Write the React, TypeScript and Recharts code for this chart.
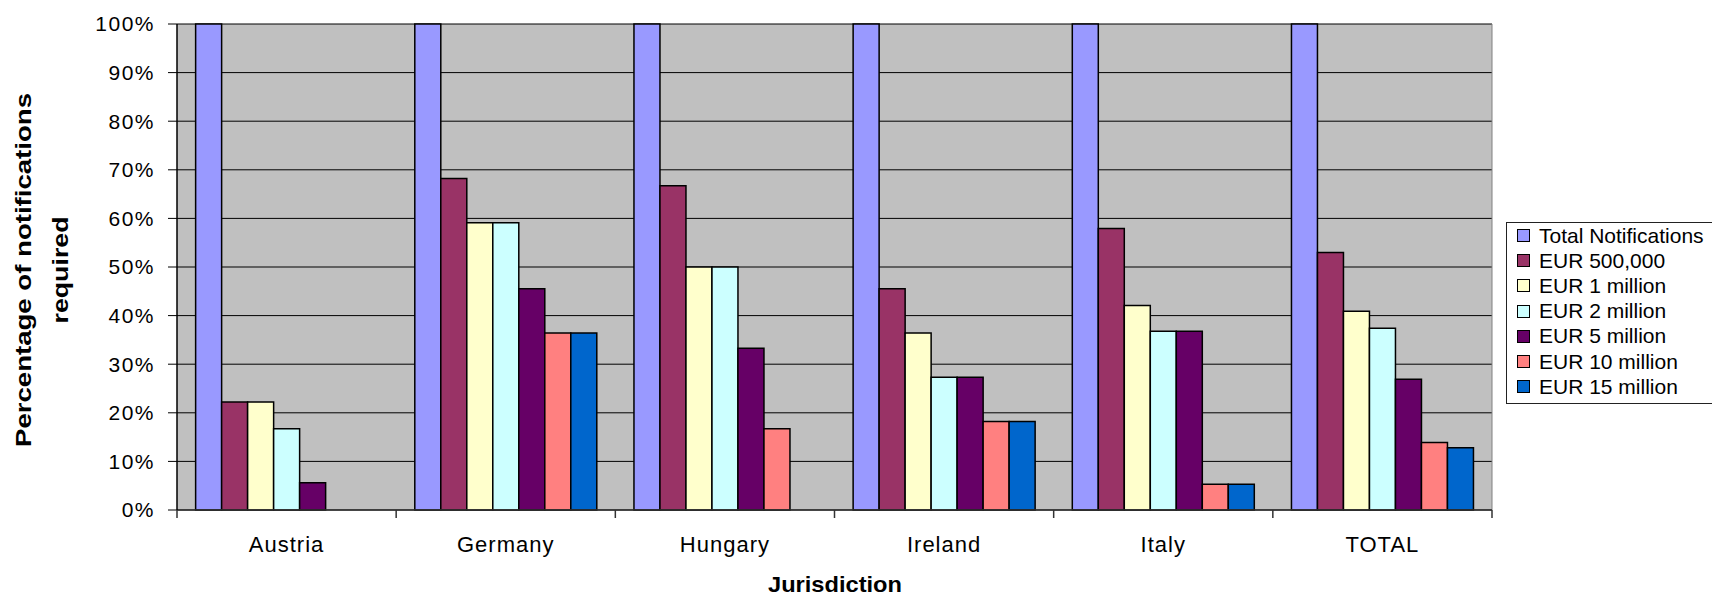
import React from "react";
import {
  BarChart,
  Bar,
  XAxis,
  YAxis,
  CartesianGrid,
} from "recharts";

const categories = ["Austria", "Germany", "Hungary", "Ireland", "Italy", "TOTAL"];

const seriesNames = [
  "Total Notifications",
  "EUR 500,000",
  "EUR 1 million",
  "EUR 2 million",
  "EUR 5 million",
  "EUR 10 million",
  "EUR 15 million",
];
const seriesColors = ["#9999FF", "#993366", "#FFFFCC", "#CCFFFF", "#660066", "#FF8080", "#0066CC"];

const totalNotifications = [100, 100, 100, 100, 100, 100];
const eur500k = [22.2, 68.2, 66.7, 45.5, 57.9, 53.0];
const eur1m = [22.2, 59.1, 50.0, 36.4, 42.1, 40.9];
const eur2m = [16.7, 59.1, 50.0, 27.3, 36.8, 37.4];
const eur5m = [5.6, 45.5, 33.3, 27.3, 36.8, 26.9];
const eur10m = [0, 36.4, 16.7, 18.2, 5.3, 13.9];
const eur15m = [0, 36.4, 0, 18.2, 5.3, 12.8];

const seriesValues = [totalNotifications, eur500k, eur1m, eur2m, eur5m, eur10m, eur15m];

const yTicks = [0, 10, 20, 30, 40, 50, 60, 70, 80, 90, 100];

const data = categories.map((name, i) => {
  const row: Record<string, number | string> = { name };
  seriesNames.forEach((s, k) => {
    row[s] = seriesValues[k][i];
  });
  return row;
});

const W = 1712;
const H = 597;
const LEFT = 177;
const RIGHT = 220;
const TOP = 24;
const BOTTOM = 87;
const halfBand = (W - LEFT - RIGHT) / categories.length / 2;

const XTick = (props: any) => {
  const { x, y, payload, index } = props;
  return (
    <g>
      <line x1={x - halfBand} x2={x - halfBand} y1={y} y2={y + 8} stroke="#333" strokeWidth={1.5} />
      {index === categories.length - 1 && (
        <line x1={x + halfBand} x2={x + halfBand} y1={y} y2={y + 8} stroke="#333" strokeWidth={1.5} />
      )}
      <text x={x} y={y + 42} textAnchor="middle" fontSize={22} letterSpacing={1} fill="#000">
        {payload.value}
      </text>
    </g>
  );
};

const YTitle = () => (
  <g>
    <text
      transform="translate(31, 270) rotate(-90)"
      textAnchor="middle"
      fontSize={22}
      fontWeight="bold"
      fill="#000"
      textLength={354}
      lengthAdjust="spacingAndGlyphs"
    >
      Percentage of notifications
    </text>
    <text
      transform="translate(68, 270) rotate(-90)"
      textAnchor="middle"
      fontSize={22}
      fontWeight="bold"
      fill="#000"
      textLength={107}
      lengthAdjust="spacingAndGlyphs"
    >
      required
    </text>
  </g>
);

const XTitle = () => (
  <text
    x={835}
    y={592}
    textAnchor="middle"
    fontSize={22}
    fontWeight="bold"
    fill="#000"
    textLength={134}
    lengthAdjust="spacingAndGlyphs"
  >
    Jurisdiction
  </text>
);

export default function App() {
  return (
    <div
      style={{
        position: "fixed",
        left: 0,
        top: 0,
        width: W,
        height: H,
        overflow: "hidden",
        background: "#fff",
        fontFamily: "'Liberation Sans', Arial, sans-serif",
      }}
    >
      <BarChart
        width={W}
        height={H}
        data={data}
        margin={{ top: TOP, right: RIGHT, left: 0, bottom: 0 }}
        barCategoryGap="8.5%"
        barGap={0}
      >
        <CartesianGrid fill="#C0C0C0" vertical={false} stroke="#000" strokeOpacity={1} />
        <CartesianGrid
          horizontal={false}
          stroke="#808080"
          verticalCoordinatesGenerator={({ offset }: any) => [offset.left + offset.width]}
        />
        <XAxis
          dataKey="name"
          height={BOTTOM}
          tickLine={false}
          tickSize={0}
          tickMargin={0}
          tick={<XTick />}
          axisLine={{ stroke: "#333", strokeWidth: 1.5 }}
          interval={0}
          label={{ content: () => <XTitle /> }}
        />
        <YAxis
          width={LEFT}
          domain={[0, 100]}
          ticks={yTicks}
          tickFormatter={(v: number) => `${v}%`}
          tickSize={9}
          tickMargin={13}
          tickLine={{ stroke: "#000" }}
          axisLine={{ stroke: "#000", strokeWidth: 1.5 }}
          tick={{ fontSize: 21, fill: "#000", letterSpacing: 1.5 }}
          interval={0}
          label={{ content: () => <YTitle /> }}
        />
        {seriesNames.map((s, k) => (
          <Bar
            key={s}
            dataKey={s}
            fill={seriesColors[k]}
            stroke="#000"
            strokeWidth={1.5}
            isAnimationActive={false}
          />
        ))}
      </BarChart>
      <div
        style={{
          position: "absolute",
          left: 1506,
          top: 222,
          width: 215,
          height: 182,
          border: "1px solid #222",
          boxSizing: "border-box",
          paddingTop: 0,
        }}
      >
        {seriesNames.map((s, k) => (
          <div
            key={s}
            style={{ display: "flex", alignItems: "center", height: 25.2, fontSize: 21, whiteSpace: "nowrap" }}
          >
            <span
              style={{
                display: "inline-block",
                width: 11,
                height: 11,
                marginLeft: 10,
                marginRight: 9,
                background: seriesColors[k],
                border: "1.5px solid #000",
              }}
            />
            <span>{s}</span>
          </div>
        ))}
      </div>
    </div>
  );
}
